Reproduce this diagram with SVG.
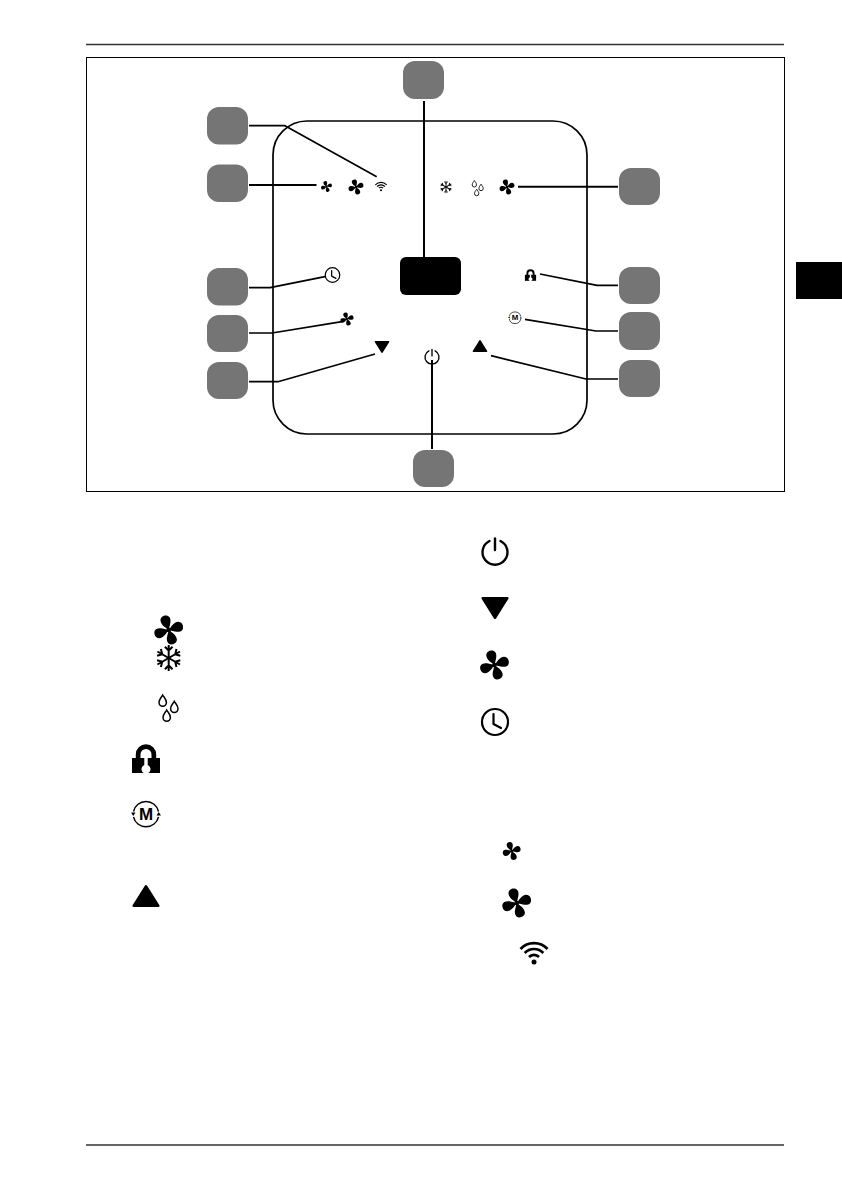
<svg xmlns="http://www.w3.org/2000/svg" xmlns:xlink="http://www.w3.org/1999/xlink" width="842" height="1191" viewBox="0 0 842 1191">
<style>
.badge{fill:#757575}
.ln{fill:none;stroke:#000;stroke-width:1.7;stroke-linejoin:round}
.th{stroke-width:2}
.ic{fill:none;stroke:#000;stroke-linecap:round;stroke-linejoin:round}
.m{font-family:"Liberation Sans",Arial,sans-serif;font-weight:700;text-anchor:middle;fill:#000}
</style>
<defs>
<g id="fan"><g id="fan2"><path id="bl" d="M0 0C-2.500 -2 -8 -5 -8.200 -9.500C-8.300 -13 -4.500 -15 -1.300 -14.200C1.800 -13.300 2.300 -9.500 1.500 -6.300C1 -4 0.500 -2 0 0Z"/><use xlink:href="#bl" transform="rotate(90)"/></g><use xlink:href="#fan2" transform="rotate(180)"/><circle r="2.300"/></g>
<g id="flake"><g id="fk"><path d="M0 -13V0M-3.800 -11.200L0 -7.500L3.800 -11.200" fill="none" stroke="#000" stroke-width="2"/></g><use xlink:href="#fk" transform="rotate(60)"/><use xlink:href="#fk" transform="rotate(120)"/><use xlink:href="#fk" transform="rotate(180)"/><use xlink:href="#fk" transform="rotate(240)"/><use xlink:href="#fk" transform="rotate(300)"/></g>
<g id="drops" fill="none" stroke="#000" stroke-width="1.500"><path id="dr" d="M0 -6.500C1.500 -3.800 3.700 -2.300 3.700 1A3.700 3.700 0 0 1 -3.700 1C-3.700 -2.300 -1.500 -3.800 0 -6.500Z" transform="translate(-6.300,-5.500)"/><use xlink:href="#dr" transform="translate(11.600,6.300)"/><use xlink:href="#dr" transform="translate(4,15)"/></g>
<g id="lock"><rect x="-14" y="-0.500" width="28" height="15"/><path d="M-10.200 0V-4A10.200 10.200 0 0 1 10.200 -4V0H5.500V-4A5.500 5.500 0 0 0 -5.500 -4V0Z"/><path d="M-1.700 -0.500H1.700V6.500A4.500 4.500 0 1 1 -1.700 6.500Z" fill="#fff"/></g>
<g id="mi"><path d="M-12.500 -2.500A12.800 12.800 0 0 1 12.500 -2.500M12.500 2.800A12.800 12.800 0 0 1 -12.500 2.800" fill="none" stroke="#000" stroke-width="1.500"/><path d="M-15 -1.500L-10.500 -1.500L-12.700 2Z M15 1.500L10.500 1.500L12.700 -2Z"/><text class="m" y="6" font-size="17">M</text></g>
<g id="wifi" fill="none" stroke="#000" stroke-width="2.700"><path d="M-13.500 -4A18.500 18.500 0 0 1 13.500 -4M-9.300 0A12.800 12.800 0 0 1 9.300 0M-5 4A7 7 0 0 1 5 4"/><circle cy="9" r="2.500" fill="#000" stroke="none"/></g>
<path id="tri" d="M0 -9.800L12.400 9.800H-12.400Z" stroke="#000" stroke-width="2.400" stroke-linejoin="round"/>
<g id="clock" class="ic"><circle r="13" stroke-width="2.200"/><path d="M-1.500 -8V2L6 6" stroke-width="2.200"/></g>
<g id="power" class="ic"><path d="M-5.500 -11A12.500 12.500 0 1 0 5.500 -11" stroke-width="2.400"/><path d="M0 -13.500V-2" stroke-width="2.400"/></g>
</defs>

<g id="page-furniture">
<path d="M86 44.500H784M86 1145H784" fill="none" stroke="#333" stroke-width="1.500"/>
<rect x="796" y="262" width="46" height="37" fill="#000"/>
<rect x="86.500" y="57.500" width="698" height="434" fill="#fff" stroke="#000"/>
</g>

<g id="panel"><rect x="273" y="121" width="314" height="313" rx="34" fill="none" stroke="#000" stroke-width="1.700"/></g>
<g id="display"><rect x="400" y="257" width="61" height="38" rx="6" fill="#000"/></g>

<g id="connectors">
<path class="ln" d="M249 125.700H285L376.700 176.700"/>
<path class="ln th" d="M249 185H316.500"/>
<path class="ln th" d="M424 101V259"/>
<path class="ln" d="M249 287.700H270L325 276.700"/>
<path class="ln" d="M249 333H272L342 321.700"/>
<path class="ln" d="M249 381.700H278L375 354"/>
<path class="ln th" d="M432 360V449"/>
<path class="ln th" d="M518 186.700H618"/>
<path class="ln" d="M540 274L597 285.300H618"/>
<path class="ln" d="M525 319.300L596 331H618"/>
<path class="ln" d="M491 355.700L586 379H618"/>
</g>

<g id="badge-top"><rect class="badge" x="403" y="61" width="41" height="38" rx="12"/></g>
<g id="badge-l1"><rect class="badge" x="207" y="107" width="41" height="37.500" rx="12"/></g>
<g id="badge-l2"><rect class="badge" x="207" y="164.500" width="41" height="37.500" rx="12"/></g>
<g id="badge-l3"><rect class="badge" x="207" y="268" width="41" height="37.500" rx="12"/></g>
<g id="badge-l4"><rect class="badge" x="207" y="315" width="41" height="37" rx="12"/></g>
<g id="badge-l5"><rect class="badge" x="207" y="362" width="41" height="37" rx="12"/></g>
<g id="badge-r1"><rect class="badge" x="619" y="168" width="41" height="37" rx="12"/></g>
<g id="badge-r2"><rect class="badge" x="619" y="267" width="41" height="37" rx="12"/></g>
<g id="badge-r3"><rect class="badge" x="619" y="312" width="41" height="38" rx="12"/></g>
<g id="badge-r4"><rect class="badge" x="619" y="360" width="41" height="37" rx="12"/></g>
<g id="badge-bottom"><rect class="badge" x="413" y="450" width="41" height="37" rx="12"/></g>

<g id="panel-icons">
<use xlink:href="#fan" transform="translate(326.500,186.500) scale(.38)"/>
<use xlink:href="#fan" transform="translate(356,187) scale(.52)"/>
<use xlink:href="#wifi" transform="translate(381,186.500) scale(.42)"/>
<use xlink:href="#flake" transform="translate(446,187) scale(.47)"/>
<use xlink:href="#drops" transform="translate(478,187.500) scale(.58)"/>
<use xlink:href="#fan" transform="translate(507,187) scale(.52)"/>
<use xlink:href="#clock" transform="translate(332.500,275) scale(.56)"/>
<use xlink:href="#lock" transform="translate(530.500,275) scale(.4)"/>
<use xlink:href="#mi" transform="translate(515,317.700) scale(.46)"/>
<use xlink:href="#tri" transform="translate(480,346) scale(.54)"/>
<use xlink:href="#tri" transform="translate(382,347) rotate(180) scale(.54)"/>
<use xlink:href="#power" transform="translate(432,357) scale(.56)"/>
<use xlink:href="#fan" transform="translate(347,319) scale(.46)"/>
</g>

<g id="legend-icons">
<use xlink:href="#fan" transform="translate(168.700,630)"/>
<use xlink:href="#flake" transform="translate(168.700,658)"/>
<use xlink:href="#drops" transform="translate(169,707)"/>
<use xlink:href="#lock" transform="translate(146,758.500)"/>
<use xlink:href="#mi" transform="translate(146,814)"/>
<use xlink:href="#tri" transform="translate(146,896)"/>
<use xlink:href="#power" transform="translate(495,552)"/>
<use xlink:href="#tri" transform="translate(495,608) rotate(180)"/>
<use xlink:href="#fan" transform="translate(494.500,665)"/>
<use xlink:href="#clock" transform="translate(495,722)"/>
<use xlink:href="#fan" transform="translate(511.700,851) scale(.62)"/>
<use xlink:href="#fan" transform="translate(516.700,903)"/>
<use xlink:href="#wifi" transform="translate(534,953)"/>
</g>
</svg>
